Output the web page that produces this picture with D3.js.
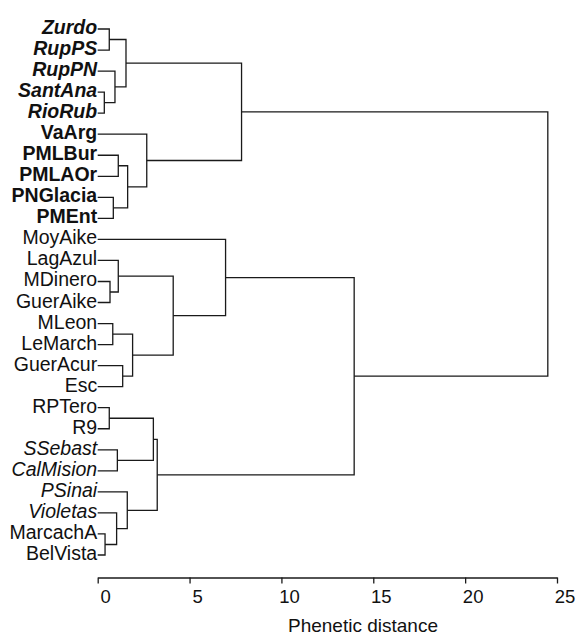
<!DOCTYPE html>
<html>
<head>
<meta charset="utf-8">
<script src="https://cdn.jsdelivr.net/npm/d3@7"></script>
<style>
  body { margin: 0; background: #fff; }
  svg { display: block; }
  text { font-family: "Liberation Sans", Arial, Helvetica, sans-serif; fill: #111; }
</style>
</head>
<body>
<div id="chart"></div>
<script>
// leaf labels, top to bottom
var labels = ["Zurdo", "RupPS", "RupPN", "SantAna", "RioRub",
  "VaArg", "PMLBur", "PMLAOr", "PNGlacia", "PMEnt",
  "MoyAike", "LagAzul", "MDinero", "GuerAike", "MLeon", "LeMarch", "GuerAcur", "Esc",
  "RPTero", "R9", "SSebast", "CalMision", "PSinai", "Violetas", "MarcachA", "BelVista"];

// label style: bi = bold italic, b = bold, i = italic, n = normal
var labelStyle = ["bi", "bi", "bi", "bi", "bi",
  "b", "b", "b", "b", "b",
  "n", "n", "n", "n", "n", "n", "n", "n",
  "n", "n", "i", "i", "i", "i", "n", "n"];

// merges, hclust style: negative = leaf (1-based), positive = earlier merge row
var mergeA = [-4, -25, -19, -1, -13, -15, -9, -3, -24, -21, -7, -12, -17, 4, -23, 11, 6, -6, 3, 19, 12, -11, 14, 22, 23];
var mergeB = [-5, -26, -20, -2, -14, -16, -10, 1, 2, -22, -8, 5, -18, 8, 9, 7, 13, 16, 10, 15, 17, 21, 18, 20, 24];
var mergeHeight = [0.36, 0.40, 0.63, 0.63, 0.67, 0.82, 0.85, 0.94, 1.03, 1.07, 1.12, 1.12, 1.36,
  1.54, 1.61, 1.63, 1.90, 2.67, 3.03, 3.24, 4.11, 6.96, 7.83, 13.96, 24.5];

var axisTicks = [0, 5, 10, 15, 20, 25];

var width = 577, height = 634;

var svg = d3.select("#chart")
  .append("svg")
  .attr("width", width)
  .attr("height", height);

var x = d3.scaleLinear().domain([0, 25]).range([97.7, 557]);
var y = d3.scalePoint().domain(labels).range([29, 555]);

// position of a leaf or merge node
var nodeY = [];
function pos(k) {
  if (k < 0) return { x: x(0), y: y(labels[-k - 1]) };
  return { x: x(mergeHeight[k - 1]), y: nodeY[k - 1] };
}

var links = svg.append("g")
  .attr("fill", "none")
  .attr("stroke", "#1a1a1a")
  .attr("stroke-width", 1.3);

mergeHeight.forEach(function(h, i) {
  var a = pos(mergeA[i]), b = pos(mergeB[i]);
  nodeY[i] = (a.y + b.y) / 2;
  var p = d3.path();
  p.moveTo(a.x, a.y);
  p.lineTo(x(h), a.y);
  p.lineTo(x(h), b.y);
  p.lineTo(b.x, b.y);
  links.append("path").attr("d", p.toString());
});

// leaf labels
svg.append("g")
  .selectAll("text")
  .data(labels)
  .join("text")
  .attr("x", x(0) - 0.5)
  .attr("y", function(d) { return y(d) + 5; })
  .attr("text-anchor", "end")
  .style("font-size", "19.5px")
  .style("font-weight", function(d, i) { return labelStyle[i].indexOf("b") >= 0 ? "bold" : "normal"; })
  .style("font-style", function(d, i) { return labelStyle[i].indexOf("i") >= 0 ? "italic" : "normal"; })
  .text(function(d) { return d; });

// distance axis
var xAxis = svg.append("g")
  .attr("transform", "translate(0,577.5)")
  .call(d3.axisBottom(x).tickValues(axisTicks).tickSize(6).tickPadding(6).tickSizeOuter(0));
xAxis.select(".domain").attr("stroke", "#1a1a1a").attr("stroke-width", 1.3);
xAxis.selectAll(".tick line").attr("stroke", "#1a1a1a").attr("stroke-width", 1.3);
xAxis.selectAll(".tick text")
  .attr("dx", 7.5)
  .attr("dy", 0)
  .attr("y", 25)
  .style("font-size", "18.5px")
  .style("font-family", "'Liberation Sans', Arial, sans-serif")
  .attr("fill", "#111");

svg.append("text")
  .attr("x", 363)
  .attr("y", 631.5)
  .attr("text-anchor", "middle")
  .style("font-size", "19px")
  .text("Phenetic distance");
</script>
</body>
</html>
